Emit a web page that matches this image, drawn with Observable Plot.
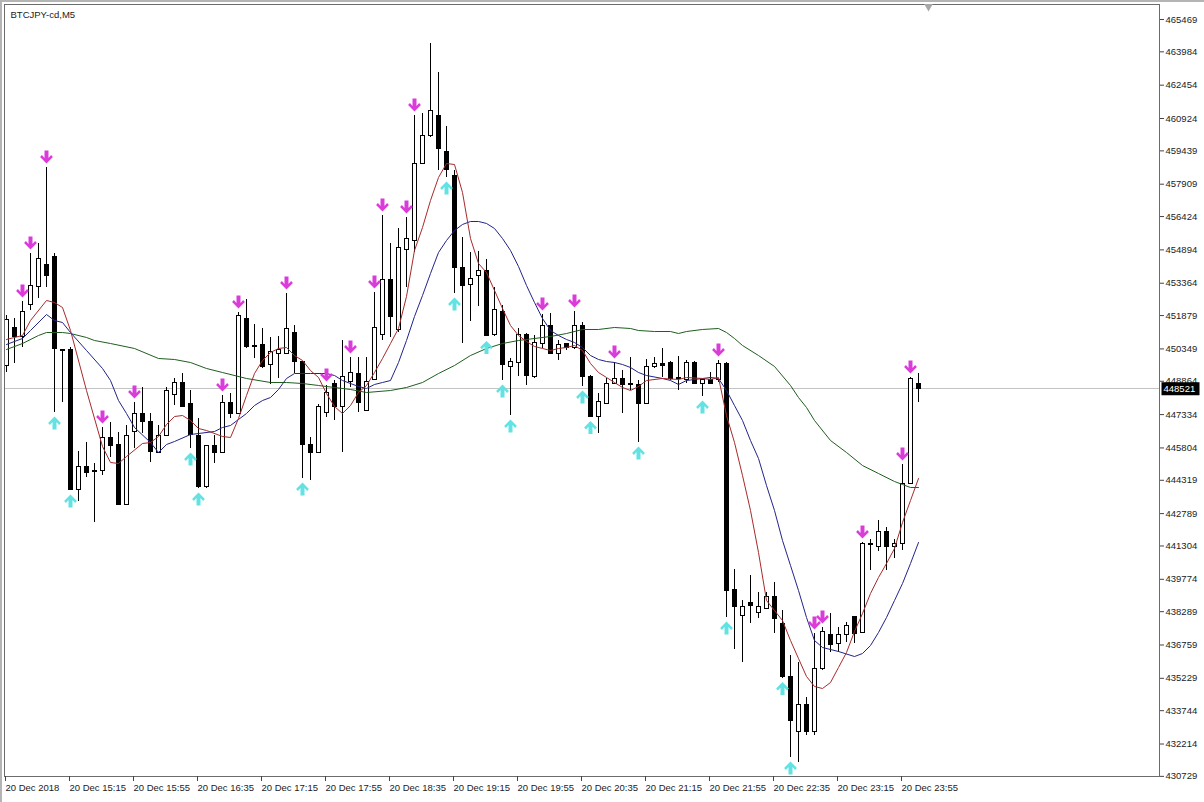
<!DOCTYPE html>
<html><head><meta charset="utf-8">
<script src="https://cdn.jsdelivr.net/npm/d3@7"></script>
<script src="https://cdn.jsdelivr.net/npm/@observablehq/plot@0.6"></script>
<style>
html,body{margin:0;padding:0;background:#fff;}
#chart{position:relative;width:1204px;height:802px;overflow:hidden;}
#chart::before{content:"";position:absolute;left:0;top:0;width:1204px;height:802px;box-sizing:border-box;border-left:2px solid #b4b4b4;border-top:2px solid #b4b4b4;pointer-events:none;}
</style></head><body><div id="chart"></div>
<script>
const symbolName = "BTCJPY-cd,M5";

const open = [449587,451286,450873,452387,453168,454223,454545,450300,450276,443896,444906,444768,444768,446237,445961,443207,446558,447384,447017,445594,446374,448256,448807,447843,446374,443988,445870,445594,447889,447384,451699,450460,450506,449633,450138,450138,451102,449771,445961,445594,447430,448761,447660,448853,449220,447522,448899,450965,453489,451194,454866,455279,458859,460099,461062,459364,458263,454040,453305,453673,453902,450965,452066,449496,449725,450965,449037,450597,451423,450138,450552,450368,451423,449037,447246,447843,448761,448945,448761,448715,447843,449496,449679,449725,448991,448899,449725,448761,448899,448899,449679,439306,438067,438709,438250,438434,438939,437745,435267,432788,433982,432788,435680,437195,436782,437195,438021,437332,441326,441234,441968,441234,441417,444171,448761];
const high = [451883,451745,452525,454728,455187,458676,454728,450330,450414,445640,446053,445089,446742,446971,446512,446834,447889,448578,447384,446834,448578,448991,449220,448440,447155,445915,446374,448210,448302,452020,452617,451469,451286,450873,450919,452892,451423,449790,446283,447797,448670,448899,450735,449955,449955,449955,452938,456472,455187,455876,456381,461062,461154,464367,463036,460558,458538,455463,454774,454820,454453,453168,452341,449909,451286,451056,450965,451929,451974,450735,450597,452066,451561,449128,448302,448991,449725,449358,449955,448899,449863,449955,450368,449771,450001,449817,449771,448945,449266,449817,449725,440224,438801,439948,439168,439168,439627,438342,436277,435955,434349,437286,437562,438204,437562,437791,438021,441463,441601,442473,442152,441601,445043,449037,449220];
const low = [449266,449679,450414,452112,452663,453168,447430,447889,443850,443345,444447,442381,444538,445365,443180,443180,445778,446466,445135,445548,446374,447751,447705,445778,443942,443960,445089,445570,447155,447360,450368,449909,449470,448715,448991,450110,449220,444401,444309,445570,447201,447063,445594,448578,447430,447500,448880,450735,450873,451102,453168,454774,458830,460070,458538,458217,452892,450597,451607,452296,450900,450940,448899,447292,449082,448670,449010,450368,450110,449817,450276,450340,448624,447220,446466,447820,448740,447384,448440,446053,447820,449470,449037,448899,448440,448761,448740,448164,448715,448807,438021,436552,435955,437745,437975,438410,437286,435240,431595,431365,432605,432605,435588,436414,436414,436873,436827,437310,440178,441050,440178,440729,441096,444150,447889];
const close = [451653,450873,452066,453214,454453,453673,450322,450270,443896,444906,444676,444722,446237,445915,443207,446374,447384,447017,445640,446374,448440,448807,447705,446420,443988,445870,445594,447889,447384,451837,450414,450414,449496,450230,450276,451240,449771,445961,445594,447660,448348,447660,449037,449266,447889,448853,451286,453489,451791,454958,455371,458859,460099,461246,459502,458538,454040,453214,453535,453902,450919,452112,449633,449771,451010,449128,450643,451423,450138,450506,450368,451423,449082,447246,447935,448761,448945,448670,448715,447843,449496,449679,449587,448945,448945,449725,448761,448899,448761,449679,439260,438480,438480,438571,438480,438939,437975,435267,433293,433982,432788,435680,437378,436736,437195,437608,437286,441372,441372,441968,441234,441417,444171,448945,448521];

// moving averages: [bar index, price]
const maFast = [[0,450781],[2,450965],[3,451653],[5,452571],[6,452479],[7,452250],[8,451194],[10,448440],[12,445870],[13,445135],[14,445089],[15,445410],[17,446007],[18,446053],[19,446329],[20,446880],[21,447246],[22,447292],[23,447063],[24,446696],[25,446604],[27,446329],[28,446283],[29,447155],[30,448210],[31,449220],[32,449817],[33,450184],[34,450368],[35,450414],[36,450046],[37,449817],[38,449358],[39,449037],[40,448302],[41,447705],[42,447384],[43,447751],[44,448348],[45,448670],[46,449266],[47,449909],[48,450597],[49,451286],[50,452755],[51,454866],[52,455921],[53,457161],[54,458217],[55,458859],[56,458813],[57,457528],[58,455417],[59,454269],[60,453856],[61,453030],[62,452204],[63,451423],[64,450965],[65,450689],[66,450460],[67,450368],[68,450276],[69,450368],[70,450414],[71,450506],[72,450276],[73,449679],[74,449266],[75,449037],[76,448807],[77,448578],[78,448440],[79,448624],[80,448899],[82,448991],[84,448945],[85,449037],[87,448991],[88,448945],[89,449037],[90,447292],[91,446053],[92,444538],[93,442932],[94,441004],[95,438801],[96,438342],[97,437883],[98,436965],[99,436139],[100,435313],[101,434854],[102,434762],[103,435037],[104,435726],[105,436414],[106,437378],[107,438204],[108,439122],[109,439857],[110,440499],[111,441188],[112,442381],[113,443391],[114,444401]];
const maMid = [[0,450552],[2,450827],[3,451194],[5,451929],[6,451653],[7,451561],[8,451102],[10,450276],[12,449450],[13,448899],[14,447981],[15,447384],[16,446742],[18,446053],[19,445594],[20,445961],[21,446099],[23,446420],[24,446466],[26,446558],[27,446742],[28,446834],[29,447109],[30,447384],[31,447751],[32,447981],[33,448118],[34,448486],[35,448991],[36,449220],[38,449220],[40,449220],[41,449128],[42,448899],[43,448761],[44,448624],[45,448532],[46,448716],[47,448807],[48,448899],[49,449725],[50,450735],[51,451837],[52,452800],[53,453810],[54,454774],[55,455325],[56,455784],[57,456060],[58,456197],[59,456197],[60,456106],[61,455876],[62,455417],[63,454866],[64,454132],[65,453260],[66,452479],[67,451745],[68,451194],[69,450965],[70,450781],[71,450643],[72,450414],[73,450046],[74,449863],[75,449771],[76,449725],[77,449633],[78,449496],[79,449266],[80,449128],[82,448991],[83,448899],[84,448716],[85,448899],[87,448991],[88,449037],[89,448991],[90,448440],[91,447751],[92,447063],[93,446145],[94,445319],[95,444080],[96,442932],[97,441555],[98,440408],[99,439260],[100,438021],[101,436965],[102,436644],[104,436460],[106,436230],[107,436368],[108,436736],[109,437332],[110,438021],[111,438801],[112,439581],[113,440499],[114,441463]];
const maSlow = [[0,450322],[2,450597],[4,450965],[5,451102],[7,451102],[8,451056],[10,450873],[11,450735],[13,450597],[16,450368],[19,449909],[21,449863],[23,449725],[25,449450],[27,449266],[30,448991],[33,448807],[35,448807],[37,448761],[39,448670],[41,448578],[43,448486],[45,448348],[48,448440],[50,448578],[52,448807],[54,449220],[56,449588],[58,450046],[60,450368],[62,450597],[64,450735],[66,450827],[68,450919],[70,451056],[72,451240],[74,451240],[76,451332],[78,451286],[79,451194],[81,451148],[83,451148],[84,451056],[85,451148],[87,451240],[89,451286],[90,451102],[91,450827],[92,450506],[94,450046],[96,449542],[98,448670],[99,448118],[100,447660],[101,447063],[103,446145],[105,445594],[107,444997],[109,444630],[111,444263],[112,444125],[113,443987],[114,443987]];

// signal arrows (bar indices)
const sellSignals = [2,3,5,12,16,27,29,35,40,43,46,47,50,51,67,71,76,89,101,102,107,112,113];
const buySignals = [6,8,23,24,37,55,56,60,62,63,72,73,79,87,90,97,98];

// axis ticks
const yTicks = [465469,463984,462454,460924,459439,457909,456424,454894,453364,451879,450349,448864,447334,445804,444319,442789,441304,439774,438289,436759,435229,433744,432214,430729];
const xTickBars = [0,8,16,24,32,40,48,56,64,72,80,88,96,104,112];
const xTickLabels = ["20 Dec 2018","20 Dec 15:15","20 Dec 15:55","20 Dec 16:35","20 Dec 17:15","20 Dec 17:55","20 Dec 18:35","20 Dec 19:15","20 Dec 19:55","20 Dec 20:35","20 Dec 21:15","20 Dec 21:55","20 Dec 22:35","20 Dec 23:15","20 Dec 23:55"];

const bars = open.map((o, i) => ({i, open: o, high: high[i], low: low[i], close: close[i]}));
const lastPrice = close[close.length - 1];

const arrowDown = {draw(c) {
  c.moveTo(-2,-7); c.lineTo(2,-7); c.lineTo(2,0.4); c.lineTo(4.6,-2.4);
  c.lineTo(6.4,-0.4); c.lineTo(0,6); c.lineTo(-6.4,-0.4); c.lineTo(-4.6,-2.4);
  c.lineTo(-2,0.4); c.closePath();
}};
const arrowUp = {draw(c) {
  c.moveTo(-2,7); c.lineTo(2,7); c.lineTo(2,-0.4); c.lineTo(4.6,2.4);
  c.lineTo(6.4,0.4); c.lineTo(0,-6); c.lineTo(-6.4,0.4); c.lineTo(-4.6,2.4);
  c.lineTo(-2,-0.4); c.closePath();
}};
const priceBox = {draw(c) { c.rect(-19, -6.5, 38, 13); }};

const plot = Plot.plot({
  width: 1204,
  height: 802,
  marginLeft: 4,
  marginRight: 45,
  marginTop: 4,
  marginBottom: 26,
  style: {fontFamily: "'Liberation Sans', Arial, sans-serif", fontSize: "9.5px", color: "#1a1a1a", background: "transparent", overflow: "visible"},
  x: {type: "linear", domain: [-0.25, 144.125], axis: null, label: null},
  y: {type: "linear", domain: [430723, 466157], axis: null, label: null},
  marks: [
    Plot.ruleY([lastPrice], {stroke: "#c4c4c4", strokeWidth: 1, shapeRendering: "crispEdges"}),
    // wicks
    Plot.ruleX(bars, {x: "i", y1: "low", y2: "high", stroke: "#000", strokeWidth: 1, shapeRendering: "crispEdges"}),
    // bodies
    Plot.rect(bars, {filter: d => d.close >= d.open, x1: d => d.i - 0.25, x2: d => d.i + 0.25, y1: "open", y2: "close", fill: "#fff", stroke: "#000", strokeWidth: 1, shapeRendering: "crispEdges"}),
    Plot.rect(bars, {filter: d => d.close < d.open, x1: d => d.i - 0.25, x2: d => d.i + 0.25, y1: "open", y2: "close", fill: "#000", stroke: "#000", strokeWidth: 1, shapeRendering: "crispEdges"}),
    // moving averages
    Plot.line(maSlow, {x: d => d[0], y: d => d[1], stroke: "#1f5e1f", strokeWidth: 1}),
    Plot.line(maMid, {x: d => d[0], y: d => d[1], stroke: "#23238c", strokeWidth: 1}),
    Plot.line(maFast, {x: d => d[0], y: d => d[1], stroke: "#a82a2a", strokeWidth: 1}),
    // signal arrows
    Plot.dot(sellSignals, {x: d => d, y: d => high[d], dy: -10, symbol: arrowDown, fill: "#d93cd9", stroke: "none"}),
    Plot.dot(buySignals, {x: d => d, y: d => low[d], dy: 10, symbol: arrowUp, fill: "#62e2e2", stroke: "none"}),
    // frame + axes
    Plot.frame({stroke: "#6c6c6c", shapeRendering: "crispEdges"}),
    Plot.axisY({anchor: "right", label: null, ticks: yTicks, tickSize: 4, tickPadding: 2, tickFormat: d => String(d), stroke: "#444", fill: "#222"}),
    Plot.axisX({anchor: "bottom", label: null, ticks: xTickBars, tickSize: 5, tickPadding: 3, textAnchor: "start", dx: -1, tickFormat: d => xTickLabels[xTickBars.indexOf(d)], stroke: "#444", fill: "#222"}),
    // current price label
    Plot.dot([lastPrice], {y: d => d, frameAnchor: "right", dx: 21, symbol: priceBox, fill: "#000", stroke: "none"}),
    Plot.text([lastPrice], {y: d => d, text: d => String(d), frameAnchor: "right", dx: 4, textAnchor: "start", fill: "#fff"}),
    // chart shift marker
    Plot.dot([bars.length], {x: d => d + 0.25, frameAnchor: "top", dy: 2, symbol: "triangle", rotate: 180, r: 3.2, fill: "#a8a8a8", stroke: "none"}),
    // symbol title
    Plot.text([symbolName], {frameAnchor: "top-left", dx: 6, dy: 7, textAnchor: "start", lineAnchor: "top", fill: "#222"})
  ]
});
document.getElementById("chart").appendChild(plot);
</script>
</body></html>
